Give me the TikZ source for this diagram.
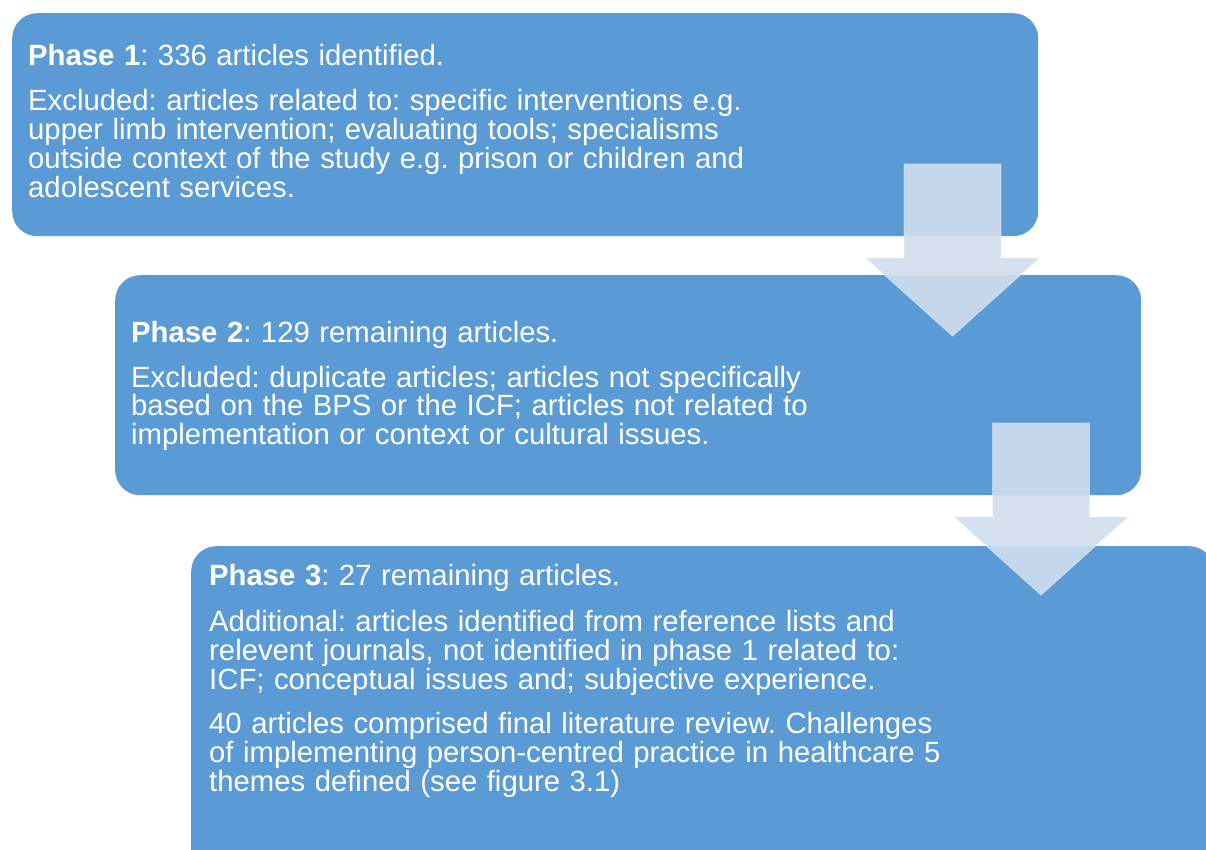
\documentclass[tikz,border=0pt]{standalone}
\usepackage{fontspec}
\setmainfont{Liberation Sans}
\definecolor{boxblue}{HTML}{5B9BD5}
\definecolor{arrowfill}{RGB}{209,222,237}
% body text of the phase boxes, with slightly open word spacing
\newcommand\phasetextfont{\fontsize{29.3}{29}\selectfont\spaceskip=9.5pt\relax}

\begin{document}
\frenchspacing
\begin{tikzpicture}[x=1pt,y=-1pt,
  phasebox/.style={fill=boxblue, draw=none, rounded corners=25pt, inner sep=0pt, anchor=north west},
  txt/.style={anchor=base west, inner sep=0pt, text=white, font=\phasetextfont},
  flowarrow/.style={fill=arrowfill, fill opacity=0.9, draw=white, draw opacity=0.45, line width=0.8pt},
  downarrow/.pic={
    \path[flowarrow] (-48.5,0) -- (48.5,0) -- (48.5,94) -- (87,94) -- (0,172)
      -- (-87,94) -- (-48.5,94) -- cycle;
  }]
\useasboundingbox (0,0) rectangle (1206,850);
\clip (0,0) rectangle (1206,850);
\fill[white] (0,0) rectangle (1206,850);

% the three phase boxes
\node[phasebox, minimum width=1026pt, minimum height=223pt] (box1) at (12,13) {};
\node[phasebox, minimum width=1026pt, minimum height=220pt] (box2) at (115,275) {};
\node[phasebox, minimum width=1023pt, minimum height=334pt] (box3) at (191,546) {};

% block arrows between the phases
\pic at (952.5,164) {downarrow};
\pic at (1041,423) {downarrow};

% phase 1
\node[txt] (p1h) at (28,66) {\textbf{Phase 1}: 336 articles identified.};
\node[txt] (p1a) at (28,111) {Excluded: articles related to: specific interventions e.g.};
\node[txt] (p1b) at (28,140) {upper limb intervention; evaluating tools; specialisms};
\node[txt] (p1c) at (28,169) {outside context of the study e.g. prison or children and};
\node[txt] (p1d) at (28,198) {adolescent services.};

% phase 2
\node[txt] (p2h) at (131,342) {\textbf{Phase 2}: 129 remaining articles.};
\node[txt] (p2a) at (131,387) {Excluded: duplicate articles; articles not specifically};
\node[txt] (p2b) at (131,415) {based on the BPS or the ICF; articles not related to};
\node[txt] (p2c) at (131,444) {implementation or context or cultural issues.};

% phase 3
\node[txt] (p3h) at (209,585) {\textbf{Phase 3}: 27 remaining articles.};
\node[txt] (p3a) at (209,631) {Additional: articles identified from reference lists and};
\node[txt] (p3b) at (209,660) {relevent journals, not identified in phase 1 related to:};
\node[txt] (p3c) at (209,689) {ICF; conceptual issues and; subjective experience.};
\node[txt] (p3d) at (209,733) {40 articles comprised final literature review. Challenges};
\node[txt] (p3e) at (209,762) {of implementing person-centred practice in healthcare 5};
\node[txt] (p3f) at (209,791) {themes defined (see figure 3.1)};
\end{tikzpicture}
\end{document}
